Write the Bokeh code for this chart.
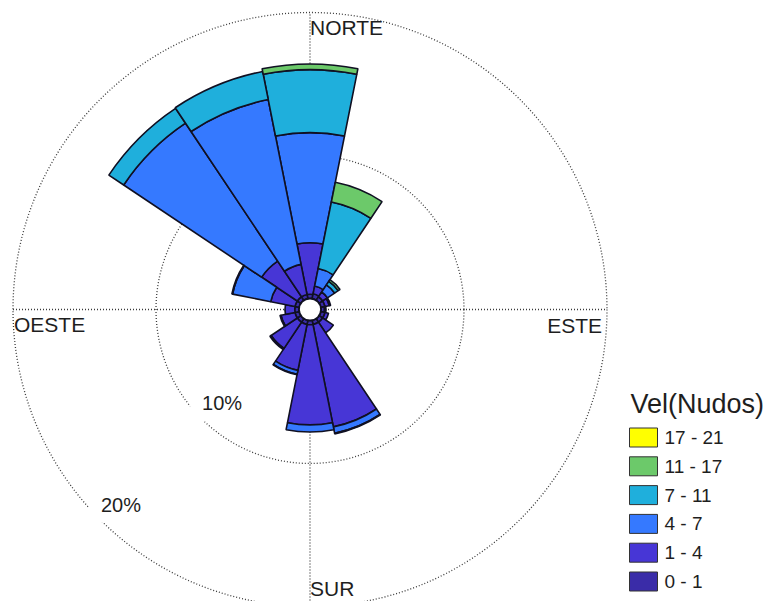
import math
from bokeh.plotting import figure
from bokeh.models import Range1d
from bokeh.core.properties import value
from bokeh.embed import file_html
from bokeh.resources import INLINE

# Wind directions (compass order, clockwise from north)
directions = ["N", "NNE", "NE", "ENE", "E", "ESE", "SE", "SSE",
              "S", "SSW", "SW", "WSW", "W", "WNW", "NW", "NNW"]
direction_angles = [i * 22.5 for i in range(16)]

# Speed classes (knots) and their colours
speed_bins = ["0 - 1", "1 - 4", "4 - 7", "7 - 11", "11 - 17", "17 - 21"]
bin_colors = ["#3a2ca8", "#4736d6", "#3579ff", "#1fafdc", "#6cc96a", "#ffff00"]

# Frequency (%) of each speed class per direction
freq_0_1 = [0.30, 0.35, 0.30, 0.30, 0.25, 0.30, 0.30, 0.30,
            0.30, 0.30, 0.30, 0.30, 0.30, 0.30, 0.30, 0.30]
freq_1_4 = [3.60, 0.55, 0.40, 0.30, 0.10, 0.25, 0.90, 7.30,
            7.00, 3.27, 2.20, 1.00, 0.68, 1.73, 3.00, 2.15]
freq_4_7 = [7.70, 1.25, 0.60, 0.10, 0.00, 0.00, 0.00, 0.45,
            0.50, 0.28, 0.10, 0.07, 0.00, 2.72, 11.60, 11.75]
freq_7_11 = [4.40, 4.75, 0.30, 0.00, 0.00, 0.00, 0.00, 0.05,
             0.00, 0.03, 0.00, 0.00, 0.00, 0.05, 1.25, 2.00]
freq_11_17 = [0.40, 1.40, 0.15, 0.00, 0.00, 0.00, 0.00, 0.00,
              0.00, 0.00, 0.00, 0.00, 0.00, 0.00, 0.00, 0.00]
freq_17_21 = [0.0] * 16

freq_by_bin = [freq_0_1, freq_1_4, freq_4_7, freq_7_11, freq_11_17, freq_17_21]

# Reference rings (%) and cardinal labels
ring_levels = [10, 20]
ring_labels = ["10%", "20%"]
cardinal_labels = ["NORTE", "ESTE", "SUR", "OESTE"]

# ---- geometry (screen pixels, y up) ----
W, H = 767, 601
CX, CY = 309.5, H - 309.0
HOLE = 11.0          # radius of the empty centre
PX_PER_PCT = 14.3    # radial scale


def rad(pct):
    return HOLE + PX_PER_PCT * pct


p = figure(width=W, height=H, x_range=Range1d(0, W), y_range=Range1d(0, H),
           x_axis_type=None, y_axis_type=None, output_backend="svg",
           toolbar_location=None, min_border=0)
p.grid.visible = False
p.outline_line_color = None
p.background_fill_color = "white"

grid_kw = dict(line_color="#3a3a3a", line_width=1.3, line_dash="1 2")
R_OUT = rad(ring_levels[-1])

# dotted rings and cross lines
for lvl in ring_levels:
    p.circle(x=CX, y=CY, radius=rad(lvl), fill_color=None, **grid_kw)
p.segment(x0=[CX - R_OUT, CX], y0=[CY, CY - R_OUT],
          x1=[CX + R_OUT, CX], y1=[CY, CY + R_OUT], **grid_kw)

# stacked sectors
cum = [0.0] * 16
half = 11.25
for b, vals in enumerate(freq_by_bin):
    inner, outer, start, end = [], [], [], []
    for i, v in enumerate(vals):
        if v > 0:
            theta = direction_angles[i]
            inner.append(rad(cum[i]))
            outer.append(rad(cum[i] + v))
            start.append(math.radians(90 - theta - half))
            end.append(math.radians(90 - theta + half))
        cum[i] += v
    if inner:
        p.annular_wedge(x=CX, y=CY, inner_radius=inner, outer_radius=outer,
                        start_angle=start, end_angle=end,
                        fill_color=bin_colors[b], line_color="#101022",
                        line_width=1.6)

# empty centre
p.circle(x=CX, y=CY, radius=HOLE, fill_color="white",
         line_color="#101022", line_width=1.8)

FONT = value("Liberation Sans")
TXT = "#1e1e1e"

# ring labels on a white patch along the south-west diagonal
for lvl, lab in zip(ring_levels, ring_labels):
    a = math.radians(225)
    px = CX + rad(lvl) * math.sin(a)
    py = CY + rad(lvl) * math.cos(a)
    p.rect(x=px + 19, y=py + 12, width=60, height=30,
           fill_color="white", line_color=None)
    p.text(x=[px + 1], y=[py + 4], text=[lab], text_font=FONT,
           text_font_size="20px", text_color=TXT,
           text_align="left", text_baseline="bottom")

# cardinal labels
p.text(x=[CX], y=[CY + R_OUT - 15], text=[cardinal_labels[0]],
       text_font=FONT, text_font_size="21px", text_color=TXT,
       text_align="left", text_baseline="middle")
p.text(x=[CX + R_OUT - 5], y=[CY - 16], text=[cardinal_labels[1]],
       text_font=FONT, text_font_size="21px", text_color=TXT,
       text_align="right", text_baseline="middle")
p.text(x=[CX], y=[CY - R_OUT + 18], text=[cardinal_labels[2]],
       text_font=FONT, text_font_size="21px", text_color=TXT,
       text_align="left", text_baseline="middle")
p.text(x=[CX - R_OUT + 1], y=[CY - 15], text=[cardinal_labels[3]],
       text_font=FONT, text_font_size="21px", text_color=TXT,
       text_align="left", text_baseline="middle")

# legend, largest class on top
LX, LY0, STEP = 629, H - 437, 28.8
p.text(x=[LX + 1], y=[H - 403], text=["Vel(Nudos)"], text_font=FONT,
       text_font_size="27px", text_color=TXT,
       text_align="left", text_baseline="middle")
leg_labels = speed_bins[::-1]
leg_colors = bin_colors[::-1]
leg_y = [LY0 - STEP * k for k in range(len(leg_labels))]
p.rect(x=[LX + 14] * len(leg_labels), y=leg_y, width=28, height=19,
       fill_color=leg_colors, line_color="#333333", line_width=1)
p.text(x=[LX + 35] * len(leg_labels), y=leg_y, text=leg_labels,
       text_font=FONT, text_font_size="19px", text_color=TXT,
       text_align="left", text_baseline="middle")

open("out.html", "w").write(file_html(p, INLINE))
